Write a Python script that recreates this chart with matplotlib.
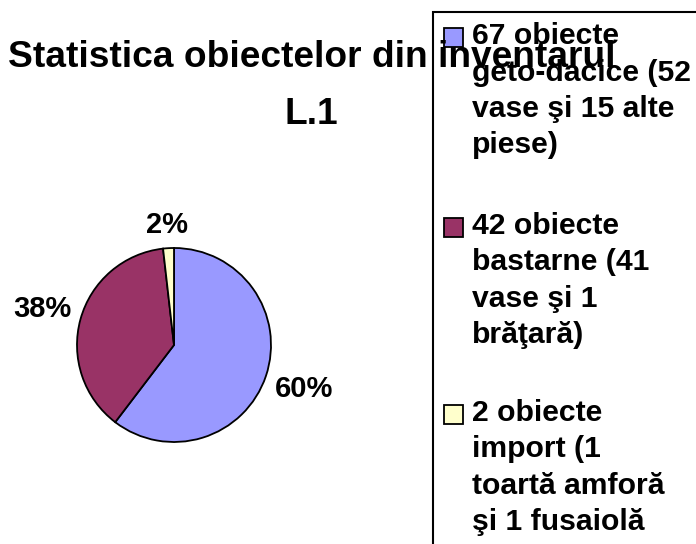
import matplotlib
matplotlib.use("Agg")
import numpy as np
import matplotlib.pyplot as plt
from matplotlib.patches import Rectangle

plt.rcParams['font.family'] = ['Liberation Sans', 'DejaVu Sans']
plt.rcParams['font.weight'] = 'bold'

# data
counts = [67, 42, 2]
colors = ['#9999FF', '#993366', '#FFFFCC']
labels = [
    "67 obiecte\ngeto-dacice (52\nvase şi 15 alte\npiese)",
    "42 obiecte\nbastarne (41\nvase şi 1\nbrăţară)",
    "2 obiecte\nimport (1\ntoartă amforă\nşi 1 fusaiolă\ndin lut)",
]
title_lines = ["Statistica obiectelor din inventarul", "L.1"]

W, H = 696, 544
fig = plt.figure(figsize=(W / 100, H / 100), dpi=100)

# pie: centre (174, 345) px, radius 97 px
cx, cy, r = 174, 345, 97
lim = 1.25
side = 2 * r * lim
ax = fig.add_axes([(cx - side / 2) / W, (H - cy - side / 2) / H, side / W, side / H])
wedges, texts, autotexts = ax.pie(
    counts, colors=colors, startangle=90, counterclock=False,
    wedgeprops=dict(edgecolor='black', linewidth=1.3),
    autopct='%1.0f%%', pctdistance=1.3,
    textprops=dict(fontsize=21, fontweight='bold'))
ax.set_xlim(-lim, lim)
ax.set_ylim(-lim, lim)
ax.axis('off')

# push each percentage out so its box sits just outside the rim (Excel style)
fig.canvas.draw()
renderer = fig.canvas.get_renderer()
for w, t in zip(wedges, autotexts):
    ang = np.deg2rad((w.theta1 + w.theta2) / 2)
    bb = t.get_window_extent(renderer)
    ext = (abs(np.cos(ang)) * bb.width / 2 + abs(np.sin(ang)) * bb.height / 2) / r
    d = 1.08 + ext
    t.set_position((d * np.cos(ang), d * np.sin(ang)))

# title
for y, line in zip([67, 124], title_lines):
    fig.text(311.5 / W, 1 - y / H, line, ha='center', va='baseline',
             fontsize=26.7, fontweight='bold')

# legend box (runs off the right and bottom edges)
fig.patches.append(Rectangle((433 / W, -0.2), 1.0, 1.2 - 12.3 / H,
                             transform=fig.transFigure, fill=False,
                             edgecolor='black', linewidth=1.5))

line_step = 36.3
entry_y = [44.3, 234, 421]
for y0, lab, col in zip(entry_y, labels, colors):
    fig.patches.append(Rectangle((444 / W, 1 - (y0 + 2.5) / H), 19 / W, 19 / H,
                                 transform=fig.transFigure, facecolor=col,
                                 edgecolor='black', linewidth=1.3))
    for i, line in enumerate(lab.split("\n")):
        fig.text(472 / W, 1 - (y0 + i * line_step) / H, line, ha='left',
                 va='baseline', fontsize=21.7, fontweight='bold')

fig.savefig('out.png', dpi=100)
